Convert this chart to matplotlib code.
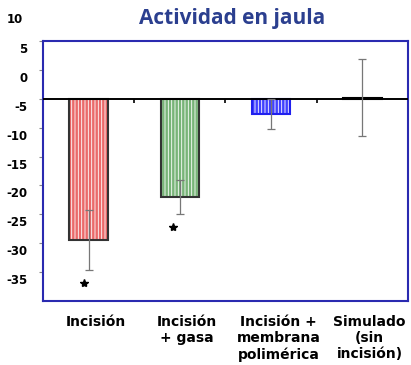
import matplotlib.pyplot as plt
import matplotlib.transforms as mtransforms
import numpy as np

categories = ['Incisión', 'Incisión\n+ gasa', 'Incisión +\nmembrana\npolimérica', 'Simulado\n(sin\nincisión)']
values = [-29.4, -22.0, -7.6, -4.8]
errors = [5.2, 3.0, 2.6, 6.6]
baseline = -5
star_y = [-36.9, -27.2]
star_x = [-0.05, -0.08]
face_colors = ['#ea6a6a', '#78b478', '#4040ff', '#000000']
stripe_colors = ['#ffffff', '#ffffff', '#ffffff', '#000000']
edge_colors = ['#333333', '#333333', '#2020ee', '#000000']
yticks = [5, 0, -5, -10, -15, -20, -25, -30, -35]

plt.rcParams['hatch.linewidth'] = 0.6

fig = plt.figure(figsize=(4.11, 3.65), dpi=100)
ax = fig.add_axes([0.1046, 0.1753, 0.8881, 0.7124])

x = np.arange(len(categories))
heights = [v - baseline for v in values]

ax.bar(x, heights, width=0.42, bottom=baseline, color=face_colors,
       hatch='|||||', edgecolor=stripe_colors, linewidth=0, zorder=2)
ax.bar(x, heights, width=0.42, bottom=baseline, fill=False,
       edgecolor=edge_colors, linewidth=1.5, zorder=3)
ax.errorbar(x, values, yerr=errors, fmt='none', ecolor='#777777',
            elinewidth=0.9, capsize=3, capthick=0.9, zorder=4)

ax.axhline(baseline, color='black', lw=1.4, zorder=3)
ax.vlines(x[:-1] + 0.5, baseline - 0.7, baseline, color='black', lw=1.2, zorder=3)

ax.plot(np.array(star_x) + x[:2], star_y, ls='none', marker='*', color='black', markersize=6)

ax.set_xlim(-0.5, len(categories) - 0.5)
ax.set_ylim(-40, 5)
ax.set_yticks(yticks)
ax.set_yticklabels([str(v) for v in yticks], fontweight='bold', fontsize=8.5)
ax.set_xticks(x + 0.08)
ax.set_xticklabels(categories, fontweight='bold', fontsize=10, va='top', linespacing=1.2)
ax.tick_params(axis='x', length=0, pad=10)
ax.tick_params(axis='y', length=3, color='#888888', pad=8)

offset = mtransforms.ScaledTranslation(0, -5 / 72, fig.dpi_scale_trans)
for lab in ax.get_yticklabels():
    lab.set_transform(lab.get_transform() + offset)
ax.text(-0.055, 10, '10', transform=mtransforms.blended_transform_factory(ax.transAxes, ax.transData) + offset,
        ha='right', va='center', fontsize=8.5, fontweight='bold', clip_on=False)

for sp in ax.spines.values():
    sp.set_color('#2a2ab0')
    sp.set_linewidth(1.5)

fig.text(0.565, 0.95, 'Actividad en jaula', ha='center', va='center',
         fontsize=15, fontweight='bold', color='#2b3f8f', family='Open Sans')

fig.savefig('out.png', dpi=100)
